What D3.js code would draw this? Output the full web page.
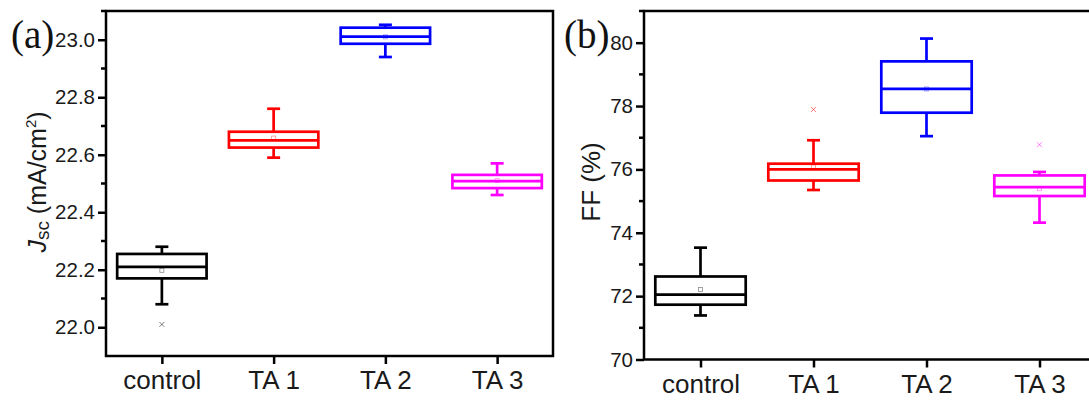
<!DOCTYPE html>
<html>
<head>
<meta charset="utf-8">
<script src="https://cdn.jsdelivr.net/npm/d3@7"></script>
<style>
  body { margin: 0; background: #fff; overflow: hidden; }
  svg { display: block; }
</style>
</head>
<body>
<script>
const categories = ['control', 'TA 1', 'TA 2', 'TA 3'];
const colors = ['#000000', '#ff0000', '#0000ff', '#ff00ff'];

// panel (a) Jsc, mA/cm2
const jscLow = [22.08, 22.59, 22.94, 22.46];
const jscQ1 = [22.17, 22.625, 22.986, 22.484];
const jscMedian = [22.21, 22.65, 23.011, 22.508];
const jscQ3 = [22.255, 22.68, 23.042, 22.53];
const jscHigh = [22.28, 22.76, 23.052, 22.57];
const jscMean = [22.198, 22.658, 23.01, 22.51];
const jscOutliers = [[22.01], [], [], []];
const jscTicks = [22.0, 22.2, 22.4, 22.6, 22.8, 23.0];
const jscMinorTicks = [22.1, 22.3, 22.5, 22.7, 22.9, 23.1];

// panel (b) FF, %
const ffLow = [71.39, 75.35, 77.05, 74.32];
const ffQ1 = [71.73, 75.65, 77.79, 75.16];
const ffMedian = [72.05, 76.0, 78.54, 75.44];
const ffQ3 = [72.62, 76.18, 79.41, 75.81];
const ffHigh = [73.53, 76.92, 80.13, 75.92];
const ffMean = [72.21, 76.08, 78.54, 75.39];
const ffOutliers = [[], [77.89], [], [76.78]];
const ffTicks = [70, 72, 74, 76, 78, 80];
const ffMinorTicks = [71, 73, 75, 77, 79, 81];

const svg = d3.select('body').append('svg')
  .attr('width', 1089)
  .attr('height', 403);

function drawPanel(opt) {
  const g = svg.append('g');
  const x = d3.scalePoint().domain(categories).range([opt.left, opt.right]).padding(0.5);
  const y = d3.scaleLinear().domain(opt.domain).range([opt.bottom, opt.top]);
  const step = x.step();
  const boxW = step * 0.8;
  const capW = 13;

  // frame
  g.append('rect')
    .attr('x', opt.left)
    .attr('y', opt.top)
    .attr('width', opt.right - opt.left)
    .attr('height', opt.bottom - opt.top)
    .attr('fill', 'none')
    .attr('stroke', '#000')
    .attr('stroke-width', 2.5);

  // y axis
  const yAxis = g.append('g')
    .attr('transform', `translate(${opt.left},0)`)
    .call(d3.axisLeft(y).tickValues(opt.ticks).tickSize(8).tickSizeOuter(0).tickPadding(3)
      .tickFormat(opt.format));
  yAxis.select('.domain').remove();
  yAxis.selectAll('line').attr('stroke-width', 2.5);
  yAxis.selectAll('text')
    .style('font', "20.5px 'Liberation Sans', Arial, sans-serif")
    .attr('fill', '#1a1a1a');

  g.selectAll('.minor')
    .data(opt.minor.filter((v) => y(v) >= opt.top))
    .join('line')
    .attr('x1', opt.left - 5)
    .attr('x2', opt.left)
    .attr('y1', (d) => y(d))
    .attr('y2', (d) => y(d))
    .attr('stroke', '#000')
    .attr('stroke-width', 2.5);

  // x axis
  const xAxis = g.append('g')
    .attr('transform', `translate(0,${opt.bottom})`)
    .call(d3.axisBottom(x).tickSize(8).tickSizeOuter(0).tickPadding(7));
  xAxis.select('.domain').remove();
  xAxis.selectAll('line').attr('stroke-width', 2.5);
  xAxis.selectAll('text')
    .style('font', "26px 'Liberation Sans', Arial, sans-serif")
    .attr('fill', '#1a1a1a');

  // boxes
  categories.forEach((cat, i) => {
    const cx = x(cat);
    const c = colors[i];
    const b = g.append('g').attr('stroke', c).attr('fill', 'none');

    b.append('line')
      .attr('x1', cx).attr('x2', cx)
      .attr('y1', y(opt.high[i])).attr('y2', y(opt.q3[i]))
      .attr('stroke-width', 2.7);
    b.append('line')
      .attr('x1', cx).attr('x2', cx)
      .attr('y1', y(opt.q1[i])).attr('y2', y(opt.low[i]))
      .attr('stroke-width', 2.7);
    [opt.high[i], opt.low[i]].forEach((v) => {
      b.append('line')
        .attr('x1', cx - capW / 2).attr('x2', cx + capW / 2)
        .attr('y1', y(v)).attr('y2', y(v))
        .attr('stroke-width', 2.7);
    });
    b.append('rect')
      .attr('x', cx - boxW / 2)
      .attr('y', y(opt.q3[i]))
      .attr('width', boxW)
      .attr('height', y(opt.q1[i]) - y(opt.q3[i]))
      .attr('stroke-width', 2.7);
    b.append('line')
      .attr('x1', cx - boxW / 2).attr('x2', cx + boxW / 2)
      .attr('y1', y(opt.median[i])).attr('y2', y(opt.median[i]))
      .attr('stroke-width', 2.7);

    // mean marker
    b.append('rect')
      .attr('x', cx - 2)
      .attr('y', y(opt.mean[i]) - 2)
      .attr('width', 4)
      .attr('height', 4)
      .attr('stroke-width', 0.8)
      .attr('opacity', 0.45);

    // outliers
    opt.outliers[i].forEach((v) => {
      const oy = y(v);
      b.append('path')
        .attr('d', `M${cx - 2.5},${oy - 2.5}L${cx + 2.5},${oy + 2.5}M${cx - 2.5},${oy + 2.5}L${cx + 2.5},${oy - 2.5}`)
        .attr('stroke-width', 1)
        .attr('opacity', 0.5);
    });
  });

  // panel label
  svg.append('text')
    .attr('x', opt.labelX)
    .attr('y', 48)
    .text(opt.label)
    .style('font', "39px 'Liberation Serif', 'Times New Roman', serif")
    .attr('fill', '#111');

  return g;
}

drawPanel({
  left: 106, right: 553, top: 11, bottom: 356,
  domain: [21.9, 23.1],
  ticks: jscTicks, minor: jscMinorTicks,
  format: d3.format('.1f'),
  low: jscLow, q1: jscQ1, median: jscMedian, q3: jscQ3, high: jscHigh,
  mean: jscMean, outliers: jscOutliers,
  label: '(a)', labelX: 11,
});

drawPanel({
  left: 644, right: 1096, top: 11, bottom: 359.5,
  domain: [70, 81],
  ticks: ffTicks, minor: ffMinorTicks,
  format: d3.format('d'),
  low: ffLow, q1: ffQ1, median: ffMedian, q3: ffQ3, high: ffHigh,
  mean: ffMean, outliers: ffOutliers,
  label: '(b)', labelX: 564,
});

// y axis titles
const titleA = svg.append('text')
  .attr('transform', 'translate(46,182) rotate(-90)')
  .attr('text-anchor', 'middle')
  .style('font', "25px 'Liberation Sans', Arial, sans-serif")
  .attr('fill', '#1a1a1a');
titleA.append('tspan').text('J').style('font-style', 'italic');
titleA.append('tspan').text('sc').style('font-size', '19px').attr('dy', 3);
titleA.append('tspan').text(' (mA/cm').attr('dy', -3);
titleA.append('tspan').text('2').style('font-size', '15px').attr('dy', -10);
titleA.append('tspan').text(')').attr('dy', 10);

svg.append('text')
  .attr('transform', 'translate(600,182) rotate(-90)')
  .attr('text-anchor', 'middle')
  .text('FF (%)')
  .style('font', "26px 'Liberation Sans', Arial, sans-serif")
  .attr('fill', '#1a1a1a');
</script>
</body>
</html>
